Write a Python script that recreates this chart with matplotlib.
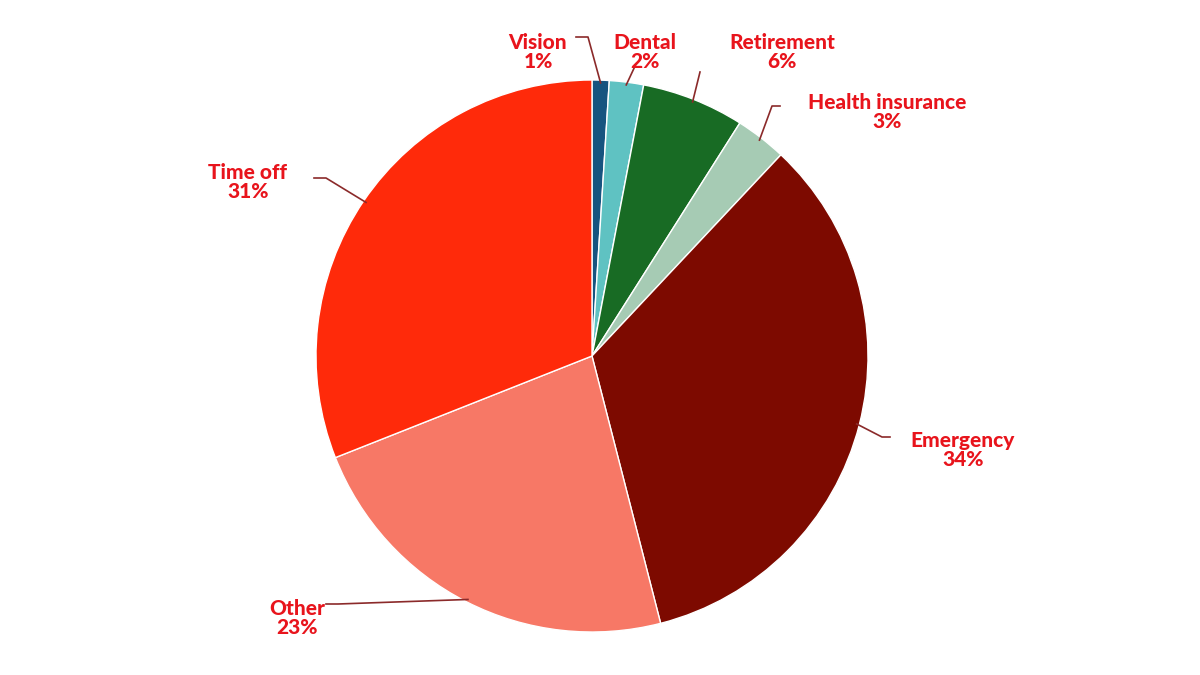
import matplotlib
matplotlib.use('Agg')
import matplotlib.pyplot as plt
import numpy as np

labels = ['Vision', 'Dental', 'Retirement', 'Health insurance', 'Emergency', 'Other', 'Time off']
values = [1, 2, 6, 3, 34, 23, 31]
colors = ['#17547f', '#5fc2c2', '#186b24', '#a6cbb4', '#7d0a00', '#f77866', '#ff2a0a']
# label centre (pixel coords, y from top) and leader line knee point
label_pos = [(538, 52), (645, 52), (782, 52), (887, 112), (963, 450), (297, 618), (248, 182)]
knee_pos = [(588, 37), (636, 64), (700, 72), (772, 106), (882, 437), (338, 604), (326, 178)]
tail_len = [-12, 0, 0, 8, 8, -12, -12]

W, H = 1200, 675
cx, cy, R = 592, 356, 276

fig = plt.figure(figsize=(12, 6.75), dpi=100)
ax = fig.add_axes([0, 0, 1, 1])

wedges, _ = ax.pie(values, colors=colors, startangle=90, counterclock=False,
                   center=(cx, H - cy), radius=R, frame=False,
                   wedgeprops=dict(edgecolor='white', linewidth=1))
ax.set_aspect('auto')
ax.set_xlim(0, W)
ax.set_ylim(0, H)
ax.axis('off')

red = '#e8141c'
line_col = '#8b2a2a'
for w, lab, v, (tx, ty), (kx, ky), tl in zip(wedges, labels, values, label_pos, knee_pos, tail_len):
    ang = np.deg2rad((w.theta1 + w.theta2) / 2)
    ex = cx + R * 0.99 * np.cos(ang)
    ey = (H - cy) + R * 0.99 * np.sin(ang)
    xs = [kx + tl, kx, ex] if tl else [kx, ex]
    ys = [H - ky, H - ky, ey] if tl else [H - ky, ey]
    ax.plot(xs, ys, color=line_col, lw=1.2)
    ax.text(tx, H - ty, f'{lab}\n{v}%', color=red, fontsize=15, fontweight='black',
            family=['Lato', 'DejaVu Sans'], ha='center', va='center', linespacing=1.05)

fig.savefig('out.png', dpi=100)
